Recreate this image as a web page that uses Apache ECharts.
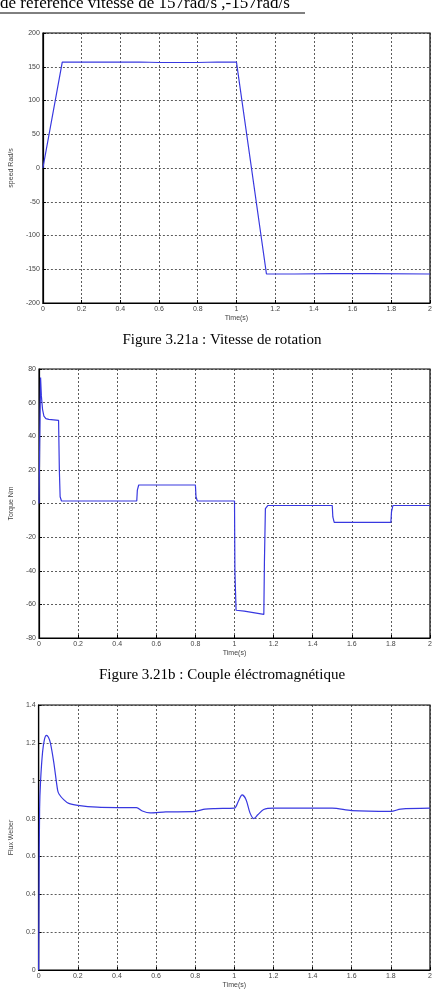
<!DOCTYPE html>
<html>
<head>
<meta charset="utf-8">
<script src="https://cdn.jsdelivr.net/npm/echarts@6/dist/echarts.min.js"></script>
<style>
  html, body { margin: 0; padding: 0; background: #fff; }
  #main { width: 438px; height: 990px; }
</style>
</head>
<body>
<div id="main"></div>
<script>
// time ticks shared by all three plots
var timeTicks = [0, 0.2, 0.4, 0.6, 0.8, 1, 1.2, 1.4, 1.6, 1.8, 2]

// vitesse de rotation (rad/s)
var speedTime = [0, 0.1, 0.3, 0.5, 0.6, 0.8, 0.9, 1.0, 1.155, 1.3, 1.5, 1.7, 2.0]
var speedVals = [0, 157, 157, 157, 156.3, 156.3, 157, 157, -157, -157, -156.5, -156.5, -157]

// couple electromagnetique (Nm)
var torqueTime = [0, 0.004, 0.008, 0.012, 0.018, 0.025, 0.035, 0.05, 0.1, 0.104, 0.108, 0.115, 0.5, 0.503, 0.51, 0.8, 0.803, 0.81, 1.0, 1.002, 1.008, 1.05, 1.15, 1.153, 1.158, 1.17, 1.5, 1.503, 1.51, 1.8, 1.803, 1.81, 2.0]
var torqueVals = [0, 40, 75, 64, 56, 52, 50.5, 50, 49.5, 20, 4, 1.5, 1.5, 8, 11, 11, 4, 1.5, 1.5, -40, -63.5, -64, -66, -35, -3, -1.2, -1.2, -8, -11.2, -11.2, -5, -1.2, -1.2]

// flux (Weber)
var fluxTime = [0, 0.002, 0.005, 0.01, 0.02, 0.03, 0.04, 0.05, 0.06, 0.077, 0.097, 0.104, 0.128, 0.154, 0.2, 0.3, 0.4, 0.5, 0.53, 0.57, 0.65, 0.8, 0.85, 0.9, 1.0, 1.02, 1.04, 1.06, 1.08, 1.1, 1.12, 1.15, 1.2, 1.5, 1.6, 1.8, 1.85, 2.0]
var fluxVals = [0, 0.4, 0.85, 1.0, 1.15, 1.22, 1.24, 1.23, 1.2, 1.1, 0.95, 0.93, 0.9, 0.88, 0.87, 0.86, 0.858, 0.858, 0.84, 0.83, 0.835, 0.838, 0.85, 0.853, 0.855, 0.89, 0.925, 0.9, 0.83, 0.80, 0.82, 0.848, 0.855, 0.855, 0.842, 0.838, 0.85, 0.855]

var yNames = ['speed Rad/s', 'Torque Nm', 'Flux Weber']
var yRanges = [[-200, 200, 50], [-80, 80, 20], [0, 1.4, 0.2]]
var captions = ['Figure 3.21a : Vitesse de rotation', 'Figure 3.21b : Couple éléctromagnétique']

function pairs(t, v) {
  return t.map(function (x, i) { return [x, v[i]] })
}

var grids = [
  { left: 38, top: 33, width: 392, height: 270 },
  { left: 38, top: 369, width: 392, height: 269 },
  { left: 38, top: 705, width: 392, height: 268 }
]

var labelStyle = { fontFamily: 'Liberation Sans', fontSize: 7, color: '#444' }
var dashed = { show: true, lineStyle: { color: '#333', type: [2, 2], width: 0.8 } }

var myChart = echarts.init(document.getElementById('main'))
myChart.setOption({
  backgroundColor: '#fff',
  animation: false,
  grid: grids.map(function (g) {
    return Object.assign({ show: true, borderColor: '#000', borderWidth: 1.2, backgroundColor: 'transparent' }, g)
  }),
  xAxis: grids.map(function (g, i) {
    return {
      type: 'value', gridIndex: i, min: timeTicks[0], max: timeTicks[timeTicks.length - 1], interval: 0.2,
      name: 'Time(s)', nameLocation: 'middle', nameGap: 12,
      nameTextStyle: labelStyle,
      axisLine: { onZero: false, lineStyle: { color: '#000', width: 1.2 } },
      axisTick: { inside: true, length: 3, lineStyle: { color: '#000' } },
      axisLabel: Object.assign({ margin: 3 }, labelStyle),
      splitLine: dashed
    }
  }),
  yAxis: yRanges.map(function (r, i) {
    return {
      type: 'value', gridIndex: i, min: r[0], max: r[1], interval: r[2],
      name: yNames[i], nameLocation: 'middle', nameGap: 20,
      nameTextStyle: labelStyle,
      axisLine: { show: true, onZero: false, lineStyle: { color: '#000', width: 1.2 } },
      axisTick: { show: true, inside: true, length: 3, lineStyle: { color: '#000' } },
      axisLabel: Object.assign({ margin: 3 }, labelStyle),
      splitLine: dashed
    }
  }),
  series: [
    { type: 'line', xAxisIndex: 0, yAxisIndex: 0, data: pairs(speedTime, speedVals) },
    { type: 'line', xAxisIndex: 1, yAxisIndex: 1, data: pairs(torqueTime, torqueVals) },
    { type: 'line', xAxisIndex: 2, yAxisIndex: 2, data: pairs(fluxTime, fluxVals), smooth: 0.3 }
  ].map(function (s) {
    return Object.assign({ showSymbol: false, lineStyle: { color: '#3838e0', width: 1.2 }, itemStyle: { color: '#3838e0' } }, s)
  }),
  graphic: [
    {
      type: 'text', x: 0, y: 4,
      style: { text: 'de référence vitesse de 157rad/s ,-157rad/s', font: '17px "Liberation Serif"', fill: '#000', textVerticalAlign: 'middle' }
    },
    { type: 'line', shape: { x1: 0, y1: 13, x2: 305, y2: 13 }, style: { stroke: '#000', lineWidth: 1 } },
    {
      type: 'text', x: 222, y: 340,
      style: { text: captions[0], font: '15px "Liberation Serif"', fill: '#000', textAlign: 'center', textVerticalAlign: 'middle' }
    },
    {
      type: 'text', x: 222, y: 675,
      style: { text: captions[1], font: '15px "Liberation Serif"', fill: '#000', textAlign: 'center', textVerticalAlign: 'middle' }
    }
  ]
})
</script>
</body>
</html>
